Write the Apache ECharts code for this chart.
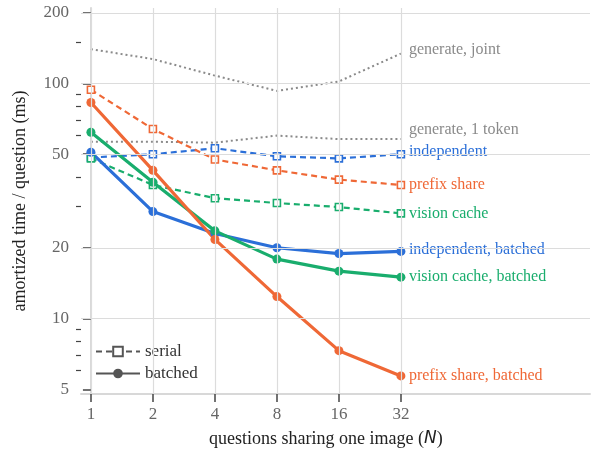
<!DOCTYPE html>
<html>
<head>
<meta charset="utf-8">
<script src="https://cdn.jsdelivr.net/npm/echarts@6/dist/echarts.min.js"></script>
<style>html,body{margin:0;padding:0;background:#fff}#chart{width:592px;height:467px}</style>
</head>
<body>
<div id="chart"></div>
<script>
const nValues = [1, 2, 4, 8, 16, 32];
const yMajor = [5, 10, 20, 50, 100, 200];
const yMinor = [6, 7, 8, 9, 30, 40, 60, 70, 80, 90, 150];

const generateJoint = [140, 127, 108, 93, 102, 134];
const generateOne = [56.5, 56.5, 56, 60, 58, 58];
const independentSerial = [48.4, 50, 53, 49, 48, 50];
const prefixSerial = [94, 64, 47.5, 42.7, 39, 37];
const visionSerial = [48, 37, 32.5, 31, 29.8, 28];
const independentBatched = [51, 28.5, 23, 20, 18.9, 19.3];
const visionBatched = [62, 38, 23.6, 17.9, 15.9, 15];
const prefixBatched = [83, 42.7, 21.7, 12.4, 7.3, 5.7];

const BLUE = '#2b6fd8', ORANGE = '#ef6836', GREEN = '#19ad6d', GRAY = '#8a8a8a', DARK = '#555';
const font = 'Liberation Serif';

function pts(vals) {
    return vals.map((v, i) => [Math.log2(nValues[i]), Math.log10(v)]);
}

function makeSeries(name, vals, color, kind, dy) {
    const s = {
        name: name,
        type: 'line',
        data: pts(vals),
        color: color,
        endLabel: {show: true, formatter: name, color: kind === 'gen' ? GRAY : color,
            fontFamily: font, fontSize: 16, distance: 8, offset: [0, dy || 0]},
        emphasis: {disabled: true},
        z: kind === 'gen' ? 2 : 3,
    };
    if (kind === 'gen') {
        s.symbol = 'none';
        s.lineStyle = {color: GRAY, width: 2, type: [2, 3]};
    } else if (kind === 'serial') {
        s.symbol = 'rect';
        s.symbolSize = 7;
        s.itemStyle = {color: '#fff', borderColor: color, borderWidth: 1.6};
        s.lineStyle = {color: color, width: 2.2, type: [6, 4]};
    } else {
        s.symbol = 'circle';
        s.symbolSize = 9;
        s.itemStyle = {color: color};
        s.lineStyle = {color: color, width: 3.2};
    }
    return s;
}

const yMin = Math.log10(5) - 0.02, yMax = Math.log10(200) + 0.02;

const option = {
    animation: false,
    grid: {left: 81, right: 2, top: 8, bottom: 73},
    legend: {
        orient: 'vertical', left: 90, top: 338, itemGap: 5, itemWidth: 44, itemHeight: 12,
        textStyle: {fontFamily: font, fontSize: 17, color: '#333'},
        data: ['serial', 'batched'],
    },
    xAxis: {
        type: 'value', min: -0.16, max: 8.05,
        name: 'questions sharing one image ({n|N})',
        nameLocation: 'start', nameGap: 0,
        nameTextStyle: {fontFamily: font, fontSize: 18, color: '#222', align: 'left', verticalAlign: 'top',
            padding: [36, 0, 0, 128], rich: {n: {fontFamily: 'DejaVu Sans', fontStyle: 'italic', fontSize: 17, color: '#222'}}},
        axisLine: {show: true, lineStyle: {color: '#d8d8d8', width: 2}},
        axisTick: {show: true, length: 8, lineStyle: {color: '#444', width: 1.5}, customValues: [0, 1, 2, 3, 4, 5]},
        axisLabel: {customValues: [0, 1, 2, 3, 4, 5], formatter: v => String(Math.round(Math.pow(2, v))),
            fontFamily: font, fontSize: 17, color: '#666', margin: 12},
        splitLine: {show: false},
    },
    yAxis: [{
        type: 'value', min: yMin, max: yMax,
        name: 'amortized time / question (ms)',
        nameLocation: 'middle', nameGap: 52,
        nameTextStyle: {fontFamily: font, fontSize: 18, color: '#222'},
        axisLine: {show: true, lineStyle: {color: '#d8d8d8', width: 2}},
        axisTick: {show: true, length: 8, inside: false, lineStyle: {color: '#444', width: 1.5},
            customValues: yMajor.map(Math.log10)},
        axisLabel: {customValues: yMajor.map(Math.log10), formatter: v => String(Math.round(Math.pow(10, v))),
            fontFamily: font, fontSize: 17, color: '#666', margin: 12},
        splitLine: {show: false},
    }, {
        type: 'value', min: yMin, max: yMax, position: 'left',
        axisLine: {show: false},
        axisTick: {show: true, length: 5, lineStyle: {color: '#444', width: 1.2},
            customValues: yMinor.map(Math.log10)},
        axisLabel: {show: false, customValues: yMinor.map(Math.log10)},
        splitLine: {show: false},
    }],
    series: [
        // gridlines drawn from tick values
        {
            type: 'line', data: [], silent: true,
            markLine: {
                silent: true, symbol: 'none', label: {show: false},
                lineStyle: {color: '#dcdcdc', width: 1.2, type: 'solid'},
                data: yMajor.slice(1).map(v => ({yAxis: Math.log10(v)}))
                    .concat(nValues.map(n => ({xAxis: Math.log2(n)}))),
            },
        },
        makeSeries('generate, joint', generateJoint, GRAY, 'gen', -4),
        makeSeries('generate, 1 token', generateOne, GRAY, 'gen', -9),
        makeSeries('independent', independentSerial, BLUE, 'serial', -2),
        makeSeries('prefix share', prefixSerial, ORANGE, 'serial'),
        makeSeries('vision cache', visionSerial, GREEN, 'serial'),
        makeSeries('independent, batched', independentBatched, BLUE, 'batched', -2),
        makeSeries('vision cache, batched', visionBatched, GREEN, 'batched'),
        makeSeries('prefix share, batched', prefixBatched, ORANGE, 'batched'),
        {name: 'serial', type: 'line', data: [], symbol: 'rect', symbolSize: 7,
            itemStyle: {color: '#fff', borderColor: DARK, borderWidth: 1.6},
            lineStyle: {color: DARK, width: 2.2, type: [6, 4]}},
        {name: 'batched', type: 'line', data: [], symbol: 'circle', symbolSize: 9,
            itemStyle: {color: DARK}, lineStyle: {color: DARK, width: 3.2}},
    ],
};

const chart = echarts.init(document.getElementById('chart'));
chart.setOption(option);
</script>
</body>
</html>
